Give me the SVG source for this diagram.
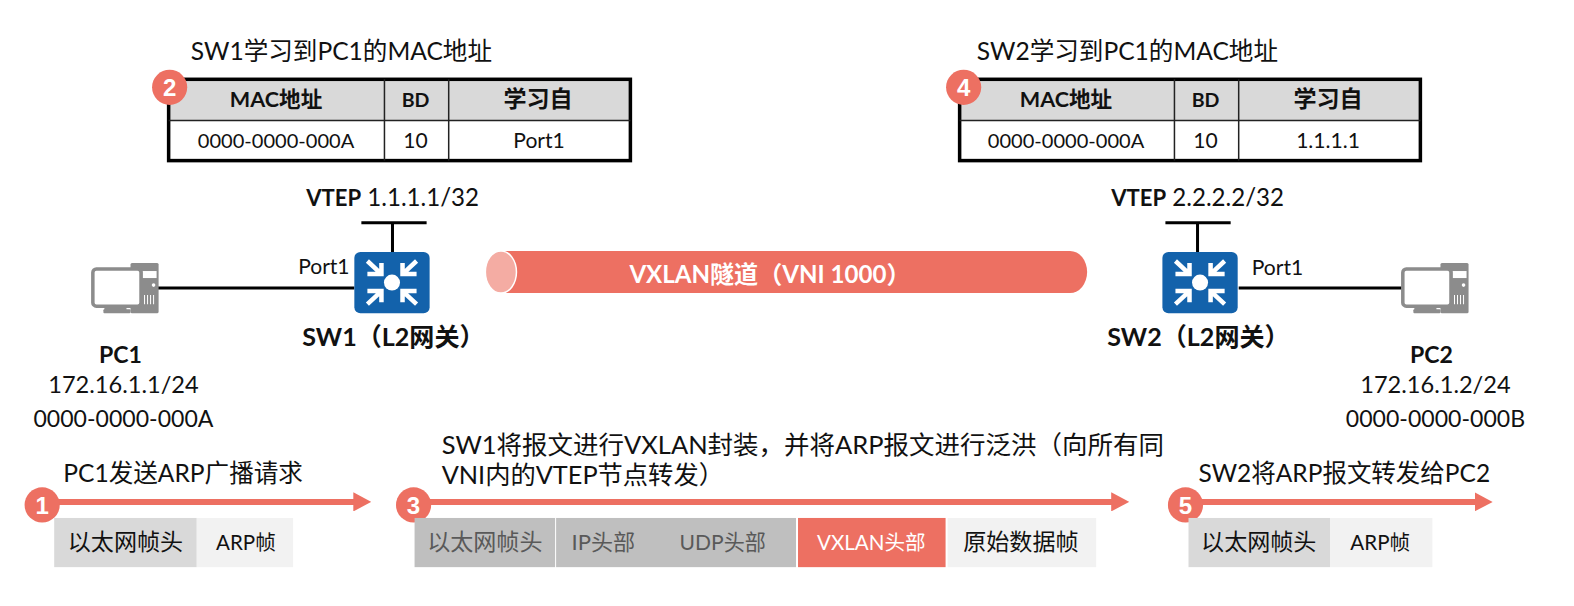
<svg xmlns="http://www.w3.org/2000/svg" width="1574" height="606" viewBox="0 0 1574 606">
<style>
text{font-family:"Lato","Noto Sans CJK SC","Liberation Sans",sans-serif;font-size:23px;fill:#111}
.c{text-anchor:middle}
.b{font-weight:700}
.h{font-size:24.500px}
.t{font-size:20px}
.p{font-size:21px}
.v{font-size:24px}
.m{font-size:23.500px}
.a{font-size:23px}
.f{font-size:20.500px}
.hd{font-size:21.500px;font-weight:700}
.bd{font-size:19.500px;font-weight:700}
.g{fill:#595959}
.w{fill:#fff}
.n{font-family:"Liberation Sans","Noto Sans CJK SC",sans-serif;font-size:24px;font-weight:700;fill:#fff;text-anchor:middle}
.line{stroke:#000;stroke-width:3;fill:none}
.flow{stroke:#ed7062;stroke-width:6;fill:none}
.tb{fill:none;stroke:#000;stroke-width:3.500}
.dv{stroke:#222;stroke-width:1.500}
</style>
<defs>
<marker id="ah" markerUnits="userSpaceOnUse" markerWidth="18" markerHeight="19" refX="2" refY="9.500" orient="auto"><path d="M0 0L18 9.500L0 19Z" fill="#ed7062"/></marker>
<g id="sw">
<rect x="0" y="0" width="75" height="61" rx="6" fill="#1362ab"/>
<circle cx="37.500" cy="30.500" r="8" fill="#fff"/>
<g stroke="#fff" fill="none" stroke-width="4.500">
<path d="M13 9L27 22M27 11V22H13"/>
<path d="M62 9L48 22M48 11V22H62"/>
<path d="M13 52L27 39M27 50V39H13"/>
<path d="M62 52L48 39M48 50V39H62"/>
</g>
</g>
<g id="pc">
<rect x="39" y="0" width="28" height="50" rx="1.500" fill="#8c8c8c"/>
<rect x="51" y="8" width="14" height="7" fill="#fff"/>
<circle cx="62" cy="22" r="1.800" fill="#fff"/>
<path d="M53 32v9M56 32v9M59 32v9M62 32v9" stroke="#fff" stroke-width="1"/>
<rect x="1.500" y="6" width="48" height="37" rx="3.500" fill="#fff" stroke="#8c8c8c" stroke-width="3.500"/>
<rect x="13" y="43" width="22" height="4" fill="#8c8c8c"/>
<rect x="12" y="46" width="27" height="4" rx="1" fill="#8c8c8c"/>
</g>
</defs>
<g id="diagram" transform="scale(1.0038)">
<g id="connectors">
<path class="line" d="M157 287H353"/>
<path class="line" d="M360 222H425M391 222V251"/>
<path class="line" d="M1234 287H1397"/>
<path class="line" d="M1161 222H1226M1193 222V251"/>
<path class="flow" d="M44 500H354" marker-end="url(#ah)"/>
<path class="flow" d="M412 500H1109" marker-end="url(#ah)"/>
<path class="flow" d="M1182 500H1471" marker-end="url(#ah)"/>
</g>

<g id="table1-title"><text x="190" y="60" class="h">SW1学习到PC1的MAC地址</text></g>
<g id="table1">
<rect x="168" y="79" width="461" height="41" fill="#d9d9d9"/>
<rect class="tb" x="168" y="79" width="460" height="81"/>
<path class="dv" d="M168 120H628M383 79V160M447 79V160"/>
<text class="c hd" x="275" y="107">MAC地址</text>
<text class="c bd" x="414" y="107">BD</text>
<text class="c b" x="536" y="107">学习自</text>
<text class="c t" x="275" y="147">0000-0000-000A</text>
<text class="c p" x="414" y="147">10</text>
<text class="c p" x="537" y="147">Port1</text>
</g>
<g id="badge2"><circle cx="169" cy="87" r="17.500" fill="#ed7062"/><text class="n" x="169" y="96">2</text></g>

<g id="table2-title"><text x="973" y="60" class="h">SW2学习到PC1的MAC地址</text></g>
<g id="table2">
<rect x="956" y="79" width="460" height="41" fill="#d9d9d9"/>
<rect class="tb" x="956" y="79" width="459" height="81"/>
<path class="dv" d="M956 120H1415M1170 79V160M1234 79V160"/>
<text class="c hd" x="1062" y="107">MAC地址</text>
<text class="c bd" x="1201" y="107">BD</text>
<text class="c b" x="1323" y="107">学习自</text>
<text class="c t" x="1062" y="147">0000-0000-000A</text>
<text class="c p" x="1201" y="147">10</text>
<text class="c p" x="1323" y="147">1.1.1.1</text>
</g>
<g id="badge4"><circle cx="960" cy="87" r="17.500" fill="#ed7062"/><text class="n" x="960" y="96">4</text></g>

<g id="vtep1"><text x="305" y="205" class="v"><tspan class="b" style="font-size:22px">VTEP</tspan> 1.1.1.1/32</text></g>
<g id="vtep2"><text x="1107" y="205" class="v"><tspan class="b" style="font-size:22px">VTEP</tspan> 2.2.2.2/32</text></g>

<g id="pc1">
<use href="#pc" x="91" y="262"/>
<text class="c b" x="120" y="362">PC1</text>
<text class="c m" x="123" y="392">172.16.1.1/24</text>
<text class="c a" x="123" y="425">0000-0000-000A</text>
</g>
<g id="sw1">
<use href="#sw" x="353" y="251"/>
<text class="p" x="297" y="273">Port1</text>
<text class="b" x="301" y="345" style="font-size:25px">SW1（L2网关）</text>
</g>
<g id="tunnel">
<path d="M499 250H1066A17 21 0 0 1 1066 292H499Z" fill="#ed7062"/>
<ellipse cx="499" cy="271" rx="15.500" ry="21" fill="#f4aca3" stroke="#fff" stroke-width="1.500"/>
<text class="b w" x="627" y="282" style="font-size:24px">VXLAN隧道（VNI 1000）</text>
</g>
<g id="sw2">
<use href="#sw" x="1158" y="251"/>
<text class="p" x="1247" y="274">Port1</text>
<text class="b" x="1103" y="345" style="font-size:25px">SW2（L2网关）</text>
</g>
<g id="pc2">
<use href="#pc" x="1396" y="262"/>
<text class="c b" x="1426" y="362">PC2</text>
<text class="c m" x="1430" y="392">172.16.1.2/24</text>
<text class="c a" x="1430" y="425">0000-0000-000B</text>
</g>

<g id="step1">
<text x="63" y="480" class="h">PC1发送ARP广播请求</text>
<circle cx="42" cy="503" r="17.500" fill="#ed7062"/><text class="n" x="42" y="512">1</text>
<rect x="54" y="516" width="142" height="49" fill="#d9d9d9"/>
<rect x="196" y="516" width="96" height="49" fill="#f2f2f2"/>
<text class="c" x="125" y="548">以太网帧头</text>
<text class="c f" x="245" y="548">ARP帧</text>
</g>
<g id="step3">
<text x="440" y="452" style="font-size:25.400px">SW1将报文进行VXLAN封装，并将ARP报文进行泛洪（向所有同</text>
<text x="440" y="482" style="font-size:25.200px">VNI内的VTEP节点转发）</text>
<circle cx="412" cy="503" r="17.500" fill="#ed7062"/><text class="n" x="412" y="512">3</text>
<rect x="413" y="516" width="140" height="49" fill="#bfbfbf"/>
<rect x="554" y="516" width="239" height="49" fill="#bfbfbf"/>
<rect x="795" y="516" width="147" height="49" fill="#ed7062"/>
<rect x="944" y="516" width="148" height="49" fill="#f2f2f2"/>
<text class="c g" x="483" y="548">以太网帧头</text>
<text class="c g" x="601" y="548" style="font-size:22px">IP头部</text>
<text class="c g" x="720" y="548" style="font-size:21px">UDP头部</text>
<text class="c w" x="868" y="548" style="font-size:20.500px">VXLAN头部</text>
<text class="c" x="1017" y="548">原始数据帧</text>
</g>
<g id="step5">
<text x="1194" y="480" style="font-size:24.400px">SW2将ARP报文转发给PC2</text>
<circle cx="1181" cy="503" r="17.500" fill="#ed7062"/><text class="n" x="1181" y="512">5</text>
<rect x="1184" y="516" width="141" height="49" fill="#d9d9d9"/>
<rect x="1325" y="516" width="102" height="49" fill="#f2f2f2"/>
<text class="c" x="1254" y="548">以太网帧头</text>
<text class="c f" x="1375" y="548">ARP帧</text>
</g>
</g>
</svg>
